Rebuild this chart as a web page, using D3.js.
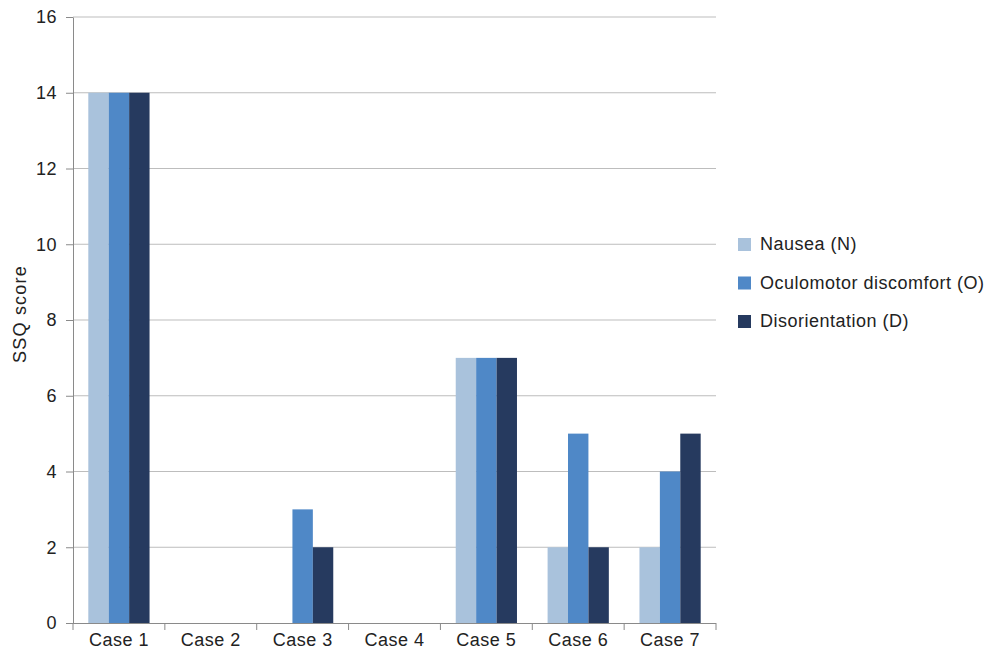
<!DOCTYPE html>
<html>
<head>
<meta charset="utf-8">
<script src="https://cdn.jsdelivr.net/npm/d3@7"></script>
<style>
  html, body { margin: 0; padding: 0; background: #fff; }
  svg text { font-family: "Liberation Sans", Arial, Helvetica, sans-serif; fill: #222; letter-spacing: 0.5px; }
</style>
</head>
<body>
<svg id="chart" width="984" height="650"></svg>
<script>
// SSQ subscale scores per case
const categories = ["Case 1", "Case 2", "Case 3", "Case 4", "Case 5", "Case 6", "Case 7"];
const seriesNames = ["Nausea (N)", "Oculomotor discomfort (O)", "Disorientation (D)"];
const nausea      = [14, 0, 0, 0, 7, 2, 2];
const oculomotor  = [14, 0, 3, 0, 7, 5, 4];
const disorient   = [14, 0, 2, 0, 7, 2, 5];
const yTicks = [0, 2, 4, 6, 8, 10, 12, 14, 16];
const colors = ["#a9c2dc", "#4f88c7", "#263a5f"];

const seriesValues = [nausea, oculomotor, disorient];

const svg = d3.select("#chart");
const W = 984, H = 650;
const margin = { left: 73, right: W - 716, top: 17, bottom: H - 623 };
const FS = 18;

const x = d3.scaleBand().domain(categories).range([margin.left, W - margin.right]).paddingInner(0).paddingOuter(0);
const xs = d3.scaleBand().domain(seriesNames).range([0, x.bandwidth()]).paddingInner(0).paddingOuter(0.75);
const y = d3.scaleLinear().domain([0, 16]).range([H - margin.bottom, margin.top]);

// horizontal gridlines
svg.append("g")
  .selectAll("line")
  .data(yTicks.filter(t => t > 0))
  .join("line")
  .attr("x1", margin.left).attr("x2", W - margin.right)
  .attr("y1", d => y(d)).attr("y2", d => y(d))
  .attr("stroke", "#bdbdbd").attr("stroke-width", 1);

// bars
const groups = svg.append("g")
  .selectAll("g")
  .data(categories)
  .join("g")
  .attr("transform", d => `translate(${x(d)},0)`);

groups.selectAll("rect")
  .data((c, i) => seriesNames.map((s, k) => ({ s, k, v: seriesValues[k][i] })))
  .join("rect")
  .filter(d => d.v > 0)
  .attr("x", d => xs(d.s))
  .attr("width", xs.bandwidth())
  .attr("y", d => y(d.v))
  .attr("height", d => y(0) - y(d.v))
  .attr("fill", d => colors[d.k]);

// y axis
const yAxis = svg.append("g")
  .attr("transform", `translate(${margin.left},0)`)
  .call(d3.axisLeft(y).tickValues(yTicks).tickSize(7).tickPadding(9).tickSizeOuter(0));
yAxis.select(".domain").attr("stroke", "#8a8a8a");
yAxis.selectAll(".tick line").attr("stroke", "#8a8a8a");
yAxis.selectAll("text").attr("font-size", FS).attr("fill", "#222");

// x axis
const xAxis = svg.append("g")
  .attr("transform", `translate(0,${y(0)})`)
  .call(d3.axisBottom(x).tickSize(0).tickPadding(10));
xAxis.select(".domain").attr("stroke", "#8a8a8a").attr("d", `M${margin.left - 7},0.5H${W - margin.right}`);
xAxis.selectAll("text").attr("font-size", FS).attr("fill", "#222").attr("dy", "0.71em");

// category boundary ticks
svg.append("g")
  .selectAll("line")
  .data(d3.range(categories.length + 1))
  .join("line")
  .attr("x1", i => margin.left + i * x.step()).attr("x2", i => margin.left + i * x.step())
  .attr("y1", y(0)).attr("y2", y(0) + 7)
  .attr("stroke", "#8a8a8a");

// y title
svg.append("text")
  .attr("transform", `translate(26,${(y(0) + y(16)) / 2 - 6}) rotate(-90)`)
  .attr("text-anchor", "middle")
  .attr("font-size", FS)
  .style("letter-spacing", "1.2px")
  .text("SSQ score");

// legend
const legend = svg.append("g").attr("transform", "translate(738,244)");
const item = legend.selectAll("g")
  .data(seriesNames)
  .join("g")
  .attr("transform", (d, i) => `translate(0,${i * 38.5})`);
item.append("rect")
  .attr("x", 0).attr("y", -6).attr("width", 13).attr("height", 13)
  .attr("fill", (d, i) => colors[i]);
item.append("text")
  .attr("x", 22).attr("y", 0).attr("dy", "0.36em")
  .attr("font-size", FS)
  .text(d => d);
</script>
</body>
</html>
